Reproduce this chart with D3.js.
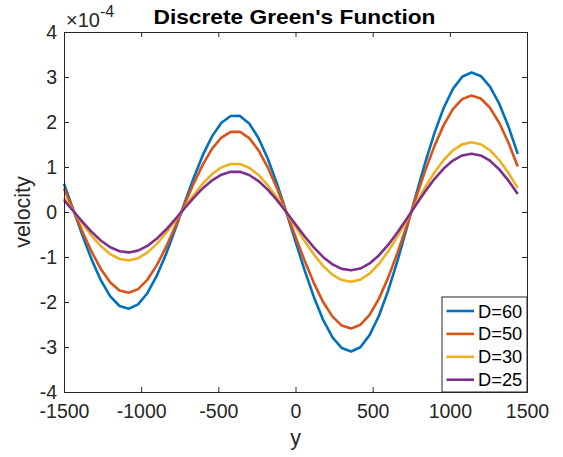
<!DOCTYPE html>
<html><head><meta charset="utf-8">
<script src="https://cdn.jsdelivr.net/npm/d3@7/dist/d3.min.js"></script>
<style>
body{margin:0;background:#fff}
svg{display:block}
text{font-family:"Liberation Sans",Arial,Helvetica,sans-serif;fill:#262626}
</style>
</head><body>
<svg id="chart" width="563" height="457"></svg>
<script>
// ---- data (velocity in units of 1e-4) ----
const yPositions = [-1500,-1440,-1380,-1320,-1260,-1200,-1140,-1080,-1020,-960,-900,-840,-780,-720,-660,-600,-540,-480,-420,-360,-300,-240,-180,-120,-60,0,60,120,180,240,300,360,420,480,540,600,660,720,780,840,900,960,1020,1080,1140,1200,1260,1320,1380,1440];
const seriesNames = ["D=60","D=50","D=30","D=25"];
const velD60 = [0.627,0.053,-0.524,-1.064,-1.526,-1.876,-2.089,-2.149,-2.052,-1.805,-1.427,-0.944,-0.391,0.189,0.756,1.268,1.686,1.982,2.133,2.136,1.967,1.645,1.190,0.630,0.001,-0.657,-1.304,-1.898,-2.403,-2.785,-3.023,-3.100,-3.005,-2.737,-2.311,-1.753,-1.094,-0.372,0.372,1.094,1.753,2.311,2.737,3.005,3.100,3.024,2.788,2.407,1.898,1.290];
const velD50 = [0.524,0.044,-0.438,-0.888,-1.274,-1.566,-1.744,-1.794,-1.713,-1.507,-1.192,-0.788,-0.326,0.158,0.631,1.059,1.408,1.655,1.781,1.784,1.642,1.374,0.994,0.526,0.001,-0.549,-1.089,-1.585,-2.007,-2.325,-2.524,-2.589,-2.509,-2.285,-1.930,-1.464,-0.913,-0.311,0.311,0.913,1.464,1.930,2.285,2.509,2.589,2.523,2.317,1.982,1.538,1.010];
const velD30 = [0.314,0.027,-0.262,-0.532,-0.763,-0.938,-1.045,-1.075,-1.026,-0.903,-0.714,-0.472,-0.196,0.095,0.378,0.634,0.843,0.991,1.067,1.068,0.984,0.823,0.595,0.315,0.001,-0.329,-0.652,-0.949,-1.202,-1.393,-1.512,-1.550,-1.503,-1.369,-1.156,-0.877,-0.547,-0.186,0.186,0.547,0.877,1.156,1.369,1.503,1.550,1.506,1.372,1.155,0.868,0.529];
const velD25 = [0.262,0.022,-0.219,-0.445,-0.638,-0.784,-0.873,-0.898,-0.858,-0.754,-0.596,-0.395,-0.163,0.079,0.316,0.530,0.705,0.828,0.892,0.893,0.822,0.688,0.497,0.263,0.000,-0.275,-0.545,-0.793,-1.004,-1.164,-1.264,-1.296,-1.256,-1.144,-0.966,-0.733,-0.457,-0.155,0.155,0.457,0.733,0.966,1.144,1.256,1.296,1.257,1.139,0.948,0.696,0.400];
const xTickValues = [-1500,-1000,-500,0,500,1000,1500];
const yTickValues = [-4,-3,-2,-1,0,1,2,3,4];
const titleText = "Discrete Green's Function";
const xLabelText = "y";
const yLabelText = "velocity";

// ---- styling / layout ----
const colors = ["#0072BD","#D95319","#EDB120","#7E2F8E"];
const W = 563, H = 457;
const m = {left:64, right:36, top:32, bottom:65};
const iw = W - m.left - m.right, ih = H - m.top - m.bottom;
const axisColor = "#262626";
const tickFont = 19.5;

const svg = d3.select("#chart");
const g = svg.append("g").attr("transform", `translate(${m.left},${m.top})`);

const x = d3.scaleLinear().domain([-1500,1500]).range([0, iw]);
const y = d3.scaleLinear().domain([-4,4]).range([ih, 0]);

const allSeries = [velD60, velD50, velD30, velD25];

// lines
const line = d3.line().x((d,i)=>x(yPositions[i])).y(d=>y(d));
allSeries.forEach((s,k)=>{
  g.append("path").datum(s).attr("d", line)
    .attr("fill","none").attr("stroke", colors[k]).attr("stroke-width",2.6)
    .attr("stroke-linejoin","round");
});

// axes
function styleAxis(sel){
  sel.select(".domain").attr("stroke", axisColor).attr("stroke-width",1);
  sel.selectAll(".tick line").attr("stroke", axisColor).attr("stroke-width",1);
  sel.selectAll(".tick text").attr("fill", axisColor).style("font-size", tickFont+"px")
     .style("font-family",'"Liberation Sans",Arial,sans-serif');
}
const fmtX = d => String(d);
g.append("g").attr("transform",`translate(0,${ih})`)
  .call(d3.axisBottom(x).tickValues(xTickValues).tickFormat(fmtX).tickSizeInner(-5).tickSizeOuter(0).tickPadding(12))
  .call(styleAxis);
g.append("g")
  .call(d3.axisTop(x).tickValues(xTickValues).tickFormat("").tickSizeInner(-5).tickSizeOuter(0))
  .call(styleAxis);
const yAx = g.append("g")
  .call(d3.axisLeft(y).tickValues(yTickValues).tickFormat(d=>String(d)).tickSizeInner(-5).tickSizeOuter(0).tickPadding(7))
  .call(styleAxis);
yAx.selectAll(".tick text").attr("dy","0.34em");
g.append("g").attr("transform",`translate(${iw},0)`)
  .call(d3.axisRight(y).tickValues(yTickValues).tickFormat("").tickSizeInner(-5).tickSizeOuter(0))
  .call(styleAxis);
svg.selectAll(".domain").attr("fill","none");

// exponent label
const ex = svg.append("text").attr("x", m.left+2).attr("y", 27).style("font-size", "20px");
ex.append("tspan").text("\u00d710");
ex.append("tspan").attr("dy",-10).style("font-size","16px").text("-4");

// title
svg.append("text").attr("x", m.left+iw/2 - 1).attr("y", 24).attr("text-anchor","middle")
  .attr("textLength", 282).attr("lengthAdjust","spacingAndGlyphs")
  .style("font-size","21px").style("font-weight","bold").style("fill","#000").text(titleText);

// axis labels
svg.append("text").attr("x", m.left+iw/2).attr("y", 445).attr("text-anchor","middle")
  .style("font-size","21.5px").text(xLabelText);
svg.append("text").attr("transform",`translate(30,${m.top+ih/2}) rotate(-90)`).attr("text-anchor","middle")
  .style("font-size","21.5px").text(yLabelText);

// legend
const lg = svg.append("g");
const lx0 = 442, ly0 = 297, lw = m.left+iw - lx0, lh = m.top+ih - ly0;
lg.append("rect").attr("x",lx0).attr("y",ly0).attr("width",lw).attr("height",lh)
  .attr("fill","#fff").attr("stroke",axisColor).attr("stroke-width",1);
seriesNames.forEach((name,k)=>{
  const cy = ly0 + 14 + k*22.9;
  lg.append("line").attr("x1",lx0+4.5).attr("x2",lx0+32).attr("y1",cy).attr("y2",cy)
    .attr("stroke",colors[k]).attr("stroke-width",2.6);
  lg.append("text").attr("x",lx0+36).attr("y",cy).attr("dy","0.36em")
    .style("font-size","18.3px").style("fill","#000").text(name);
});
</script>
</body></html>
